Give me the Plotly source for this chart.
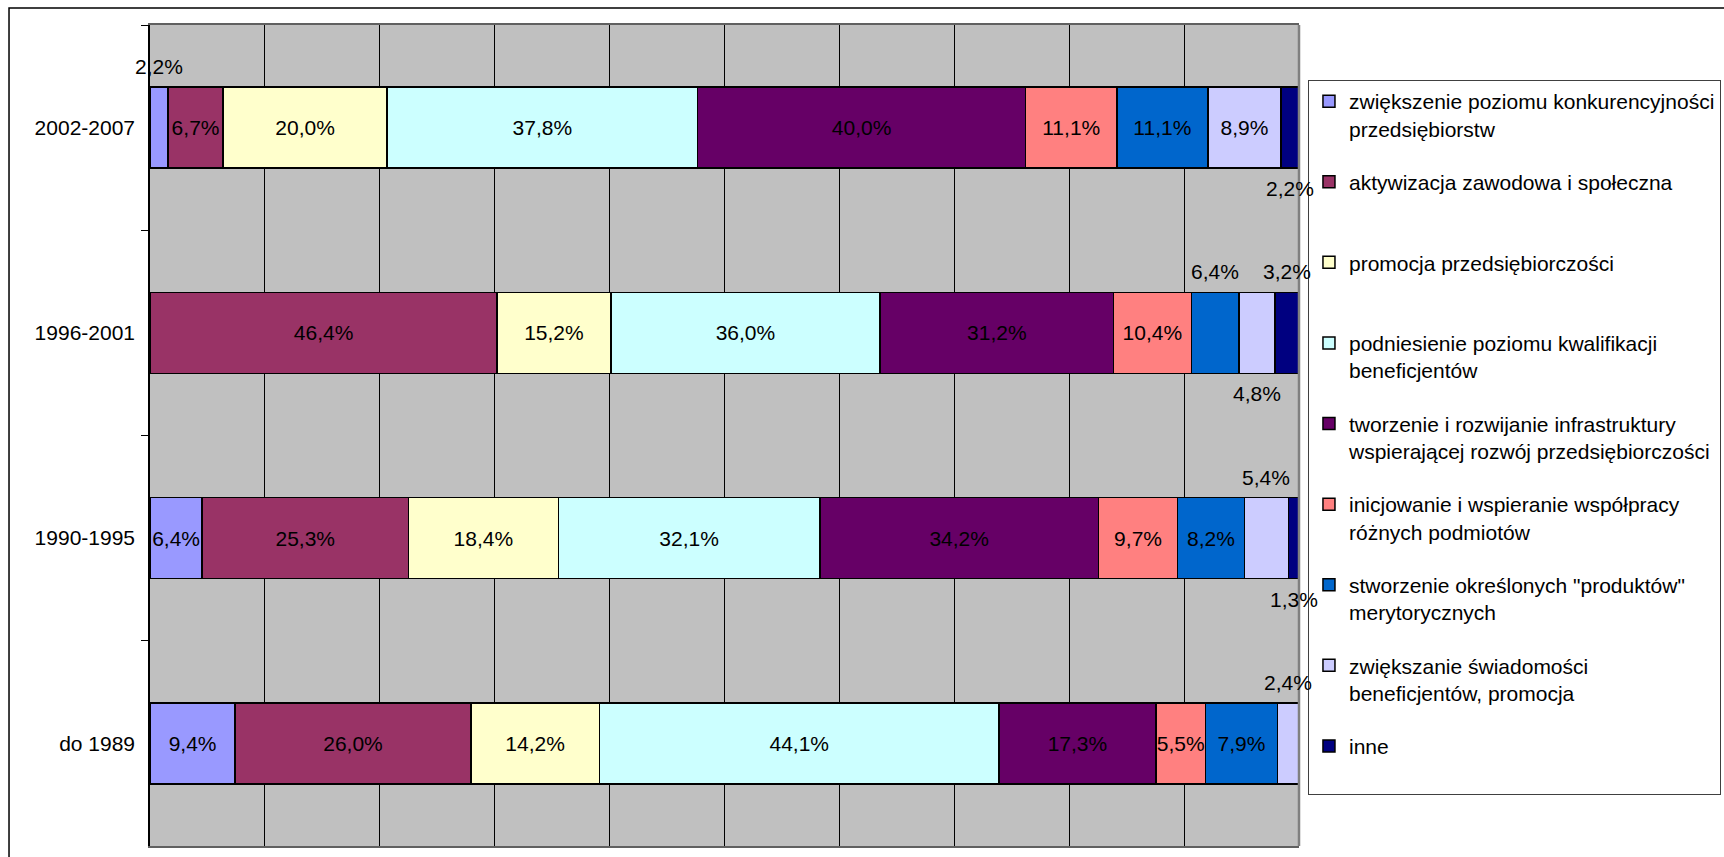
import plotly.graph_objects as go

categories = ["2002-2007", "1996-2001", "1990-1995", "do 1989"]

series_names = [
    "zwiększenie poziomu konkurencyjności<br>przedsiębiorstw",
    "aktywizacja zawodowa i społeczna",
    "promocja przedsiębiorczości",
    "podniesienie poziomu kwalifikacji<br>beneficjentów",
    "tworzenie i rozwijanie infrastruktury<br>wspierającej rozwój przedsiębiorczości",
    "inicjowanie i wspieranie współpracy<br>różnych podmiotów",
    "stworzenie określonych \"produktów\"<br>merytorycznych",
    "zwiększanie świadomości<br>beneficjentów, promocja",
    "inne",
]

konkurencyjnosc = [2.2, 0.0, 6.4, 9.4]
aktywizacja = [6.7, 46.4, 25.3, 26.0]
promocja = [20.0, 15.2, 18.4, 14.2]
kwalifikacje = [37.8, 36.0, 32.1, 44.1]
infrastruktura = [40.0, 31.2, 34.2, 17.3]
wspolpraca = [11.1, 10.4, 9.7, 5.5]
produkty = [11.1, 6.4, 8.2, 7.9]
swiadomosc = [8.9, 4.8, 5.4, 2.4]
inne = [2.2, 3.2, 1.3, 0.0]

series_values = [konkurencyjnosc, aktywizacja, promocja, kwalifikacje,
                 infrastruktura, wspolpraca, produkty, swiadomosc, inne]

colors = ["#9999FF", "#993366", "#FFFFCC", "#CCFFFF", "#660066",
          "#FF8080", "#0066CC", "#CCCCFF", "#000080"]

# labels drawn outside of their (too narrow) segments
outside = {
    (0, "2002-2007"): "above", (8, "2002-2007"): "below",
    (6, "1996-2001"): "above", (7, "1996-2001"): "below", (8, "1996-2001"): "above",
    (7, "1990-1995"): "above", (8, "1990-1995"): "below",
    (7, "do 1989"): "above",
}

FONT = "Liberation Sans, Arial, sans-serif"
FS = 21
LFS = 21


def fmt(v):
    return f"{v:.1f}".replace(".", ",") + "%"


fig = go.Figure()
for i, (name, vals, col) in enumerate(zip(series_names, series_values, colors)):
    texts = []
    for c, v in zip(categories, vals):
        if v == 0 or (i, c) in outside:
            texts.append("")
        else:
            texts.append(fmt(v))
    legend_name = name if "<br>" in name else name + "<br>\u00a0"
    fig.add_trace(go.Bar(
        y=categories, x=vals, orientation="h", name=legend_name,
        legendgroup=f"g{i}",
        marker=dict(color=col, line=dict(color="#000000", width=1.5)),
        text=texts, textposition="inside", insidetextanchor="middle",
        textangle=0, textfont=dict(color="#000000", size=FS, family=FONT),
        hoverinfo="skip",
    ))

# outside labels at segment centres (computed from data)
totals = [sum(s[j] for s in series_values) for j in range(len(categories))]
for (i, c), pos in outside.items():
    j = categories.index(c)
    cum = sum(series_values[k][j] for k in range(i))
    xc = (cum + series_values[i][j] / 2) / totals[j] * 100
    fig.add_annotation(
        x=xc, y=c, xref="x", yref="y", text=fmt(series_values[i][j]),
        showarrow=False, font=dict(size=FS, color="#000000", family=FONT),
        yshift=61 if pos == "above" else -61,
    )

fig.update_layout(
    width=1724, height=857,
    margin=dict(l=150, r=425, t=25, b=11, autoexpand=False),
    barmode="stack", barnorm="percent", bargap=0.605,
    plot_bgcolor="#C0C0C0", paper_bgcolor="#FFFFFF",
    font=dict(family=FONT, size=FS, color="#000000"),
    uniformtext=dict(minsize=FS, mode="show"),
    showlegend=True,
    legend=dict(
        x=1.0078, y=0.933, xanchor="left", yanchor="top",
        bordercolor="#404040", borderwidth=1, bgcolor="#FFFFFF",
        font=dict(size=LFS, family=FONT, color="#000000"),
        traceorder="grouped", tracegroupgap=23, valign="top",
    ),
    xaxis=dict(range=[0, 100], dtick=10, showgrid=True, gridcolor="#000000",
               gridwidth=1, zeroline=False, showticklabels=False, ticks="",
               showline=True, mirror=True, linecolor="#606060", linewidth=2,
               fixedrange=True),
    yaxis=dict(autorange="reversed", tickson="boundaries", ticks="outside",
               ticklen=7, tickcolor="#000000", showline=True, linecolor="#000000",
               linewidth=1.5, showgrid=False, ticklabelstandoff=9,
               tickfont=dict(size=FS, family=FONT, color="#000000"),
               fixedrange=True),
    shapes=[
        dict(type="line", xref="paper", yref="paper", x0=1, x1=1, y0=0, y1=1,
             line=dict(color="#808080", width=2.5)),
        dict(type="rect", xref="paper", yref="paper", x0=-0.1227, x1=1.5,
             y0=-0.1, y1=1.0207, line=dict(color="#000000", width=1.5),
             layer="below"),
    ],
)

fig.write_html("out.html")
